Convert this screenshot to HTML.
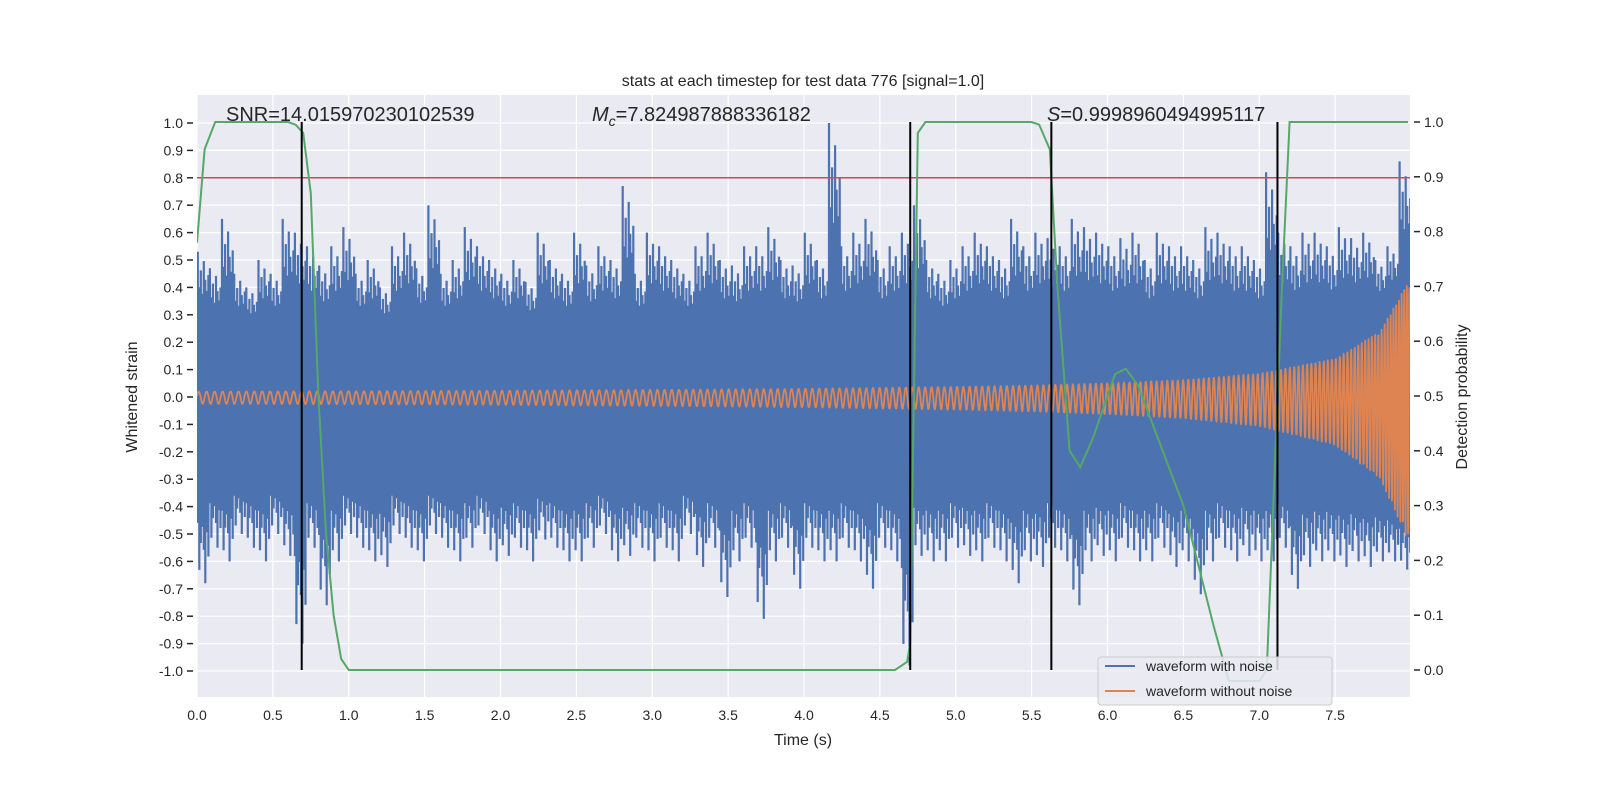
<!DOCTYPE html>
<html><head><meta charset="utf-8"><style>
body{margin:0;background:#fff;}
svg text{font-family:"Liberation Sans","DejaVu Sans",sans-serif;fill:#262626;}
</style></head><body>
<svg id="c" width="1600" height="800" xmlns="http://www.w3.org/2000/svg">
<rect x="0" y="0" width="1600" height="800" fill="#fff"/>
<rect x="197" y="95" width="1213" height="602" fill="#eaeaf2"/>
<g id="grid"></g>
<defs><clipPath id="clip"><rect x="197" y="95" width="1213" height="602"/></clipPath></defs>
<g id="marks" clip-path="url(#clip)"></g>
<g id="axes"></g>
<text x="803" y="86" font-size="16" text-anchor="middle">stats at each timestep for test data 776 [signal=1.0]</text>
<text x="226" y="121" font-size="20">SNR=14.015970230102539</text>
<text x="592" y="121" font-size="20"><tspan font-style="italic">M</tspan><tspan font-size="14" dy="5" font-style="italic">c</tspan><tspan dy="-5">=7.824987888336182</tspan></text>
<text x="1047" y="121" font-size="20"><tspan font-style="italic">S</tspan>=0.9998960494995117</text>
<text x="803" y="745" font-size="16" text-anchor="middle">Time (s)</text>
<text x="137" y="397" font-size="16" text-anchor="middle" transform="rotate(-90 137 397)">Whitened strain</text>
<text x="1467" y="397" font-size="16" text-anchor="middle" transform="rotate(-90 1467 397)">Detection probability</text>
<g>
<rect x="1098" y="657" width="234" height="48" rx="3" fill="#eaeaf2" fill-opacity="0.85" stroke="#ccc"/>
<line x1="1105" y1="666" x2="1135" y2="666" stroke="#4c72b0" stroke-width="2"/>
<text x="1146" y="671" font-size="14">waveform with noise</text>
<line x1="1105" y1="691" x2="1135" y2="691" stroke="#dd8452" stroke-width="2"/>
<text x="1146" y="696" font-size="14">waveform without noise</text>
</g>
</svg>
<script>
// bins of 0.08 s
const upperPeaks=[0.53,0.47,0.65,0.45,0.4,0.5,0.45,0.65,0.6,0.55,0.48,0.55,0.62,0.45,0.5,0.4,0.55,0.6,0.47,0.7,0.45,0.5,0.62,0.55,0.5,0.45,0.5,0.42,0.6,0.5,0.45,0.6,0.48,0.55,0.5,0.77,0.45,0.6,0.55,0.5,0.45,0.55,0.6,0.5,0.48,0.55,0.55,0.62,0.5,0.48,0.6,0.5,1.0,0.55,0.6,0.65,0.5,0.55,0.6,0.7,0.5,0.45,0.5,0.55,0.6,0.55,0.5,0.65,0.55,0.6,0.58,0.55,0.65,0.62,0.6,0.55,0.58,0.6,0.5,0.6,0.55,0.55,0.5,0.62,0.6,0.55,0.55,0.5,0.82,0.6,0.55,0.6,0.6,0.55,0.62,0.58,0.6,0.5,0.55,0.86];
const lowerPeaks=[-0.68,-0.55,-0.6,-0.5,-0.55,-0.6,-0.5,-0.58,-0.9,-0.55,-0.76,-0.6,-0.5,-0.55,-0.6,-0.62,-0.5,-0.55,-0.6,-0.5,-0.55,-0.6,-0.55,-0.5,-0.6,-0.58,-0.55,-0.6,-0.52,-0.55,-0.6,-0.6,-0.55,-0.5,-0.6,-0.58,-0.55,-0.6,-0.55,-0.6,-0.5,-0.62,-0.55,-0.73,-0.6,-0.55,-0.81,-0.6,-0.55,-0.7,-0.55,-0.6,-0.6,-0.55,-0.6,-0.7,-0.55,-0.6,-0.98,-0.58,-0.6,-0.6,-0.55,-0.58,-0.6,-0.55,-0.6,-0.68,-0.6,-0.62,-0.55,-0.6,-0.76,-0.6,-0.58,-0.6,-0.55,-0.6,-0.6,-0.55,-0.62,-0.6,-0.72,-0.6,-0.55,-0.6,-0.58,-0.6,-0.6,-0.55,-0.7,-0.62,-0.6,-0.6,-0.62,-0.6,-0.62,-0.6,-0.6,-0.63];
const coreTimes=[0,4,7,7.5,7.8,7.98];
const coreHalf=[0.19,0.19,0.19,0.2,0.25,0.32];
const chirpTimes=[0,1,2,3,4,5,5.5,6,6.5,7,7.5,7.8,7.98];
const chirpAmp=[0.02,0.021,0.023,0.026,0.03,0.037,0.042,0.05,0.062,0.085,0.14,0.24,0.42];
const chirpFreq=[19,19.5,20,21,22,24,25,27,29,32,38,48,60];
const probTimes=[0,0.05,0.12,0.2,0.6,0.65,0.7,0.75,0.8,0.85,0.9,0.95,1.0,4.6,4.68,4.7,4.75,4.8,5.5,5.55,5.62,5.67,5.75,5.82,5.9,6.05,6.12,6.2,6.5,6.7,6.8,7.0,7.05,7.15,7.2,7.98];
const probVals=[0.78,0.95,1.0,1.0,1.0,0.995,0.98,0.87,0.5,0.25,0.1,0.02,0.0,0.0,0.015,0.05,0.98,1.0,1.0,0.995,0.95,0.7,0.4,0.37,0.42,0.54,0.55,0.52,0.3,0.08,-0.02,-0.02,0.0,0.7,1.0,1.0];
const eventTimes=[0.69,4.7,5.63,7.12];
const threshold=0.8;
const xTicks=[0,0.5,1,1.5,2,2.5,3,3.5,4,4.5,5,5.5,6,6.5,7,7.5];
const yTicks=[-1,-0.9,-0.8,-0.7,-0.6,-0.5,-0.4,-0.3,-0.2,-0.1,0,0.1,0.2,0.3,0.4,0.5,0.6,0.7,0.8,0.9,1.0];
const pTicks=[0,0.1,0.2,0.3,0.4,0.5,0.6,0.7,0.8,0.9,1.0];
const binW=0.08;

const X=t=>197+t*151.75;
const Y=v=>397-v*274;
const P=p=>670-p*548;
const NS='http://www.w3.org/2000/svg';
function mk(parent,tag,attrs){const e=document.createElementNS(NS,tag);for(const k in attrs)e.setAttribute(k,attrs[k]);parent.appendChild(e);return e;}
function interp(ts,vs,t){if(t<=ts[0])return vs[0];for(let i=1;i<ts.length;i++){if(t<=ts[i]){const f=(t-ts[i-1])/(ts[i]-ts[i-1]);return vs[i-1]+f*(vs[i]-vs[i-1]);}}return vs[vs.length-1];}
const grid=document.getElementById('grid'),marks=document.getElementById('marks'),axes=document.getElementById('axes');

yTicks.forEach(v=>{const l=mk(grid,'line',{x1:197,x2:1410,y1:Y(v),y2:Y(v),stroke:'#fff','stroke-width':1.2});


const t=mk(axes,'text',{x:183,y:Y(v)+5,'font-size':14,'text-anchor':'end'});t.textContent=v.toFixed(1);


mk(axes,'line',{x1:187,x2:193,y1:Y(v),y2:Y(v),stroke:'#262626','stroke-width':1.5});});
xTicks.forEach(v=>{const l=mk(grid,'line',{x1:X(v),x2:X(v),y1:95,y2:697,stroke:'#fff','stroke-width':1.2});


const t=mk(axes,'text',{x:X(v),y:720,'font-size':14,'text-anchor':'middle'});t.textContent=v.toFixed(1);

});
pTicks.forEach(v=>{mk(axes,'line',{x1:1414,x2:1420,y1:P(v),y2:P(v),stroke:'#262626','stroke-width':1.5});
const t=mk(axes,'text',{x:1424,y:P(v)+5,'font-size':14});t.textContent=v.toFixed(1);

});

// noisy waveform
const subF=[1,0.62,0.8,0.55,0.9,0.7,0.58,0.75];
let d='';
upperPeaks.forEach((u,i)=>{
  for(let s=0;s<subF.length;s++){
    const t=i*binW+(s+0.5)*binW/subF.length;
    const core=interp(coreTimes,coreHalf,t);
    const up=Math.max(core,core+(u-core)*subF[s]);
    const lo=Math.min(-core,-core+(lowerPeaks[i]+core)*subF[(s+3)%subF.length]);
    d+='M'+X(t).toFixed(1)+' '+Y(up).toFixed(1)+'V'+Y(lo).toFixed(1);
  }
});
const blue=mk(marks,'path',{d:d,stroke:'#4c72b0','stroke-width':2.2,fill:'none'});


let cp='M'+X(0)+' '+Y(coreHalf[0]);
for(let t=0;t<=7.98;t+=0.02)cp+='L'+X(t).toFixed(1)+' '+Y(interp(coreTimes,coreHalf,t)).toFixed(1);
for(let t=7.98;t>=0;t-=0.02)cp+='L'+X(t).toFixed(1)+' '+Y(-interp(coreTimes,coreHalf,t)-0.01).toFixed(1);
const core=mk(marks,'path',{d:cp+'Z',fill:'#4c72b0'});



// clean chirp
let od='',ph=0,first=true;
for(let t=0;t<=7.99;t+=0.002){
  const f=interp(chirpTimes,chirpFreq,t);ph+=2*Math.PI*f*0.002;
  const a=interp(chirpTimes,chirpAmp,t);
  const v=Math.sin(ph)>=0?a*Math.sin(ph):1.25*a*Math.sin(ph);
  od+=(first?'M':'L')+X(t).toFixed(1)+' '+Y(v).toFixed(1);first=false;
}
const orange=mk(marks,'path',{d:od,stroke:'#dd8452','stroke-width':1.8,fill:'none','stroke-linejoin':'round'});



// threshold
const th=mk(marks,'line',{x1:197,x2:1410,y1:Y(threshold),y2:Y(threshold),stroke:'#c44e52','stroke-width':1.5});



// probability
const pd=probTimes.map((t,i)=>(i?'L':'M')+X(t).toFixed(1)+' '+P(probVals[i]).toFixed(1)).join('');
const green=mk(marks,'path',{d:pd,stroke:'#55a868','stroke-width':2,fill:'none'});



eventTimes.forEach(t=>{const l=mk(marks,'line',{x1:X(t),x2:X(t),y1:P(1),y2:P(0),stroke:'#000','stroke-width':2});

});
</script>
</body></html>
